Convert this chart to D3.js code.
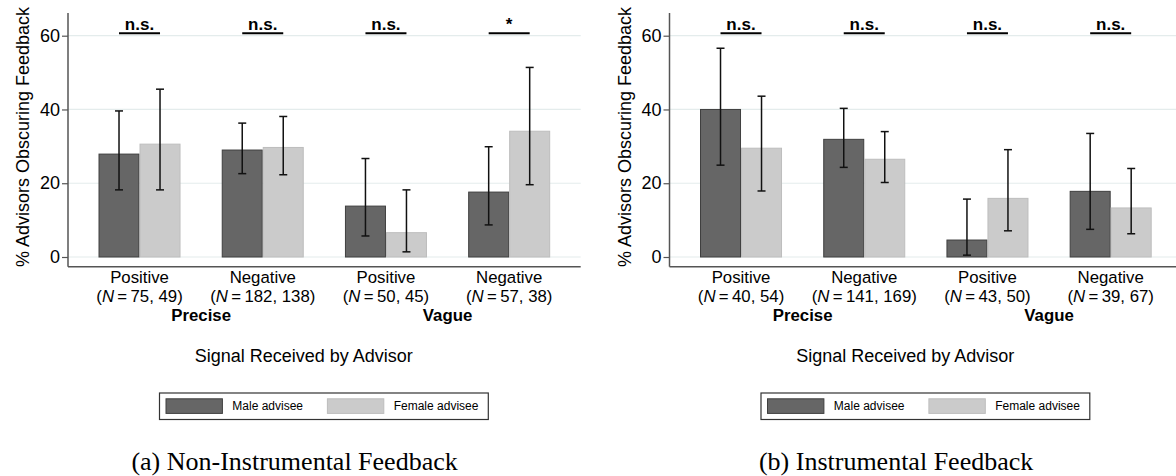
<!DOCTYPE html>
<html>
<head>
<meta charset="utf-8">
<script src="https://cdn.jsdelivr.net/npm/d3@7"></script>
<style>
  html, body { margin: 0; padding: 0; background: #ffffff; }
  svg { display: block; }
  text { font-family: "Liberation Sans", Arial, Helvetica, sans-serif; fill: #000; }
  .caption { font-family: "Liberation Serif", "Times New Roman", serif; }
</style>
</head>
<body>
<svg id="chart" width="1176" height="476"></svg>
<script>
// Signal categories along the x axis
const signals = ["Positive", "Negative", "Positive", "Negative"];
const signalKeys = ["precPos", "precNeg", "vagPos", "vagNeg"];
const precisionGroups = ["Precise", "Vague"];
const sexes = ["Male advisee", "Female advisee"];
const yTicks = [0, 20, 40, 60];

// (a) Non-instrumental feedback
const nonInstrN = ["75, 49", "182, 138", "50, 45", "57, 38"];
const nonInstrMale = [27.9, 29.0, 13.8, 17.6];
const nonInstrMaleLo = [18.2, 22.6, 5.7, 8.7];
const nonInstrMaleHi = [39.6, 36.3, 26.7, 29.9];
const nonInstrFemale = [30.6, 29.7, 6.6, 34.1];
const nonInstrFemaleLo = [18.2, 22.3, 1.4, 19.6];
const nonInstrFemaleHi = [45.5, 38.1, 18.2, 51.4];
const nonInstrSig = ["n.s.", "n.s.", "n.s.", "*"];

// (b) Instrumental feedback
const instrN = ["40, 54", "141, 169", "43, 50", "39, 67"];
const instrMale = [40.0, 31.9, 4.6, 17.8];
const instrMaleLo = [24.9, 24.3, 0.5, 7.5];
const instrMaleHi = [56.6, 40.3, 15.7, 33.5];
const instrFemale = [29.5, 26.5, 15.9, 13.3];
const instrFemaleLo = [17.9, 20.2, 7.1, 6.3];
const instrFemaleHi = [43.6, 34.0, 29.1, 24.0];
const instrSig = ["n.s.", "n.s.", "n.s.", "n.s."];

const panels = [
  { offset: 0, caption: "(a) Non-Instrumental Feedback", n: nonInstrN,
    male: nonInstrMale, maleLo: nonInstrMaleLo, maleHi: nonInstrMaleHi,
    female: nonInstrFemale, femaleLo: nonInstrFemaleLo, femaleHi: nonInstrFemaleHi,
    sig: nonInstrSig },
  { offset: 601.5, caption: "(b) Instrumental Feedback", n: instrN,
    male: instrMale, maleLo: instrMaleLo, maleHi: instrMaleHi,
    female: instrFemale, femaleLo: instrFemaleLo, femaleHi: instrFemaleHi,
    sig: instrSig }
];

const colors = { "Male advisee": "#666666", "Female advisee": "#cbcbcb" };
const strokes = { "Male advisee": "#3f3f3f", "Female advisee": "#bdbdbd" };

const svg = d3.select("#chart");

// Plot frame (panel-local coordinates)
const axisX = 68, axisRight = 580.7, axisBottom = 266.7, axisTop = 13;

const y = d3.scaleLinear().domain([0, 60]).range([257, 35.7]);
const x = d3.scaleBand().domain(signalKeys).range([axisX, axisRight])
  .paddingInner(0.3344).paddingOuter(0.2476);
const xSex = d3.scaleBand().domain(sexes).range([0, x.bandwidth()]);

function drawPanel(p) {
  const g = svg.append("g").attr("transform", `translate(${p.offset},0)`);

  // gridlines
  g.append("g").selectAll("line").data(yTicks).join("line")
    .attr("x1", axisX).attr("x2", axisRight)
    .attr("y1", d => y(d)).attr("y2", d => y(d))
    .attr("stroke", "#e4ecec").attr("stroke-width", 1.2);

  // rows of bar data
  const rows = signalKeys.map((k, i) => ({
    key: k, i,
    bars: [
      { sex: sexes[0], v: p.male[i], lo: p.maleLo[i], hi: p.maleHi[i] },
      { sex: sexes[1], v: p.female[i], lo: p.femaleLo[i], hi: p.femaleHi[i] }
    ]
  }));

  const groups = g.append("g").selectAll("g").data(rows).join("g")
    .attr("transform", d => `translate(${x(d.key)},0)`);

  groups.selectAll("rect").data(d => d.bars).join("rect")
    .attr("x", d => xSex(d.sex) + 0.5)
    .attr("width", xSex.bandwidth() - 1)
    .attr("y", d => y(d.v))
    .attr("height", d => y(0) - y(d.v))
    .attr("fill", d => colors[d.sex])
    .attr("stroke", d => strokes[d.sex])
    .attr("stroke-width", 1);

  // confidence intervals
  const eb = groups.selectAll("g.err").data(d => d.bars).join("g").attr("class", "err")
    .attr("transform", d => `translate(${xSex(d.sex) + xSex.bandwidth() / 2},0)`);
  eb.append("line").attr("x1", 0).attr("x2", 0)
    .attr("y1", d => y(d.lo)).attr("y2", d => y(d.hi))
    .attr("stroke", "#111").attr("stroke-width", 1.5);
  eb.append("line").attr("x1", -4).attr("x2", 4)
    .attr("y1", d => y(d.lo)).attr("y2", d => y(d.lo))
    .attr("stroke", "#111").attr("stroke-width", 1.5);
  eb.append("line").attr("x1", -4).attr("x2", 4)
    .attr("y1", d => y(d.hi)).attr("y2", d => y(d.hi))
    .attr("stroke", "#111").attr("stroke-width", 1.5);

  // significance brackets
  groups.append("line")
    .attr("x1", xSex(sexes[0]) + xSex.bandwidth() / 2)
    .attr("x2", xSex(sexes[1]) + xSex.bandwidth() / 2)
    .attr("y1", 33.3).attr("y2", 33.3)
    .attr("stroke", "#000").attr("stroke-width", 2);
  groups.append("text")
    .attr("x", x.bandwidth() / 2).attr("y", 29.5)
    .attr("text-anchor", "middle")
    .attr("font-weight", "bold").attr("font-size", 17)
    .text(d => p.sig[d.i]);

  // y axis
  const yAxis = d3.axisLeft(y).tickValues(yTicks).tickSize(6).tickPadding(2);
  const ya = g.append("g").attr("transform", `translate(${axisX},0)`).call(yAxis);
  ya.select(".domain").remove();
  ya.selectAll(".tick line").attr("stroke", "#555").attr("stroke-width", 1.2);
  ya.selectAll(".tick text").attr("font-size", 18).attr("fill", "#000")
    .attr("font-family", "Liberation Sans, Arial, sans-serif");

  g.append("line").attr("x1", axisX).attr("x2", axisX)
    .attr("y1", axisTop).attr("y2", axisBottom)
    .attr("stroke", "#555").attr("stroke-width", 1.5);
  g.append("line").attr("x1", axisX).attr("x2", axisRight)
    .attr("y1", axisBottom).attr("y2", axisBottom)
    .attr("stroke", "#555").attr("stroke-width", 1.5);

  // y axis title
  g.append("text")
    .attr("transform", "translate(23,137) rotate(-90)")
    .attr("text-anchor", "middle").attr("dominant-baseline", "central")
    .attr("font-size", 18)
    .text("% Advisors Obscuring Feedback");

  // category labels: signal name with sample sizes on a second line
  const labels = g.append("g").selectAll("text").data(rows).join("text")
    .attr("transform", d => `translate(${x(d.key) + x.bandwidth() / 2},0)`)
    .attr("text-anchor", "middle").attr("font-size", 16.8);
  labels.append("tspan").attr("x", 0).attr("y", 282.5).text(d => signals[d.i]);
  labels.append("tspan").attr("x", 0).attr("y", 301.5).text("(");
  labels.append("tspan").attr("font-style", "italic").text("N");
  labels.append("tspan").text(d => "\u2009=\u2009" + p.n[d.i] + ")");

  // precision group labels
  precisionGroups.forEach((label, j) => {
    const a = signalKeys[j * 2], b = signalKeys[j * 2 + 1];
    const cx = (x(a) + x(b) + x.bandwidth()) / 2;
    g.append("text").attr("x", cx).attr("y", 320.5)
      .attr("text-anchor", "middle").attr("font-weight", "bold")
      .attr("font-size", 16.8).text(label);
  });

  // x axis title
  g.append("text").attr("x", 303.7).attr("y", 361.5)
    .attr("text-anchor", "middle").attr("font-size", 18)
    .text("Signal Received by Advisor");

  // legend
  const lg = g.append("g");
  lg.append("rect").attr("x", 159.5).attr("y", 393)
    .attr("width", 328.8).attr("height", 26.5)
    .attr("fill", "#fff").attr("stroke", "#333").attr("stroke-width", 1.2);
  const swatchX = [166, 327.4];
  sexes.forEach((s, k) => {
    lg.append("rect").attr("x", swatchX[k]).attr("y", 398.8)
      .attr("width", 56.4).attr("height", 14.6)
      .attr("fill", colors[s]).attr("stroke", strokes[s]).attr("stroke-width", 1);
    lg.append("text").attr("x", swatchX[k] + 66.3).attr("y", 410.3)
      .attr("font-size", 12).text(s);
  });

  // caption
  g.append("text").attr("class", "caption")
    .attr("x", 294.6).attr("y", 469.5)
    .attr("text-anchor", "middle").attr("font-size", 26)
    .text(p.caption);
}

panels.forEach(drawPanel);
</script>
</body>
</html>
